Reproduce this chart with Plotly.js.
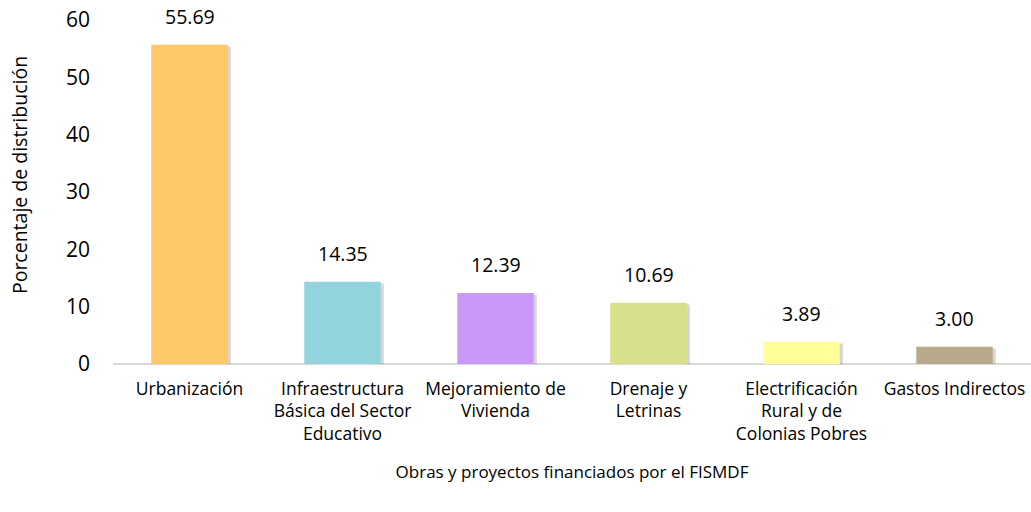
<!DOCTYPE html>
<html>
<head>
<meta charset="utf-8">
<script src="https://cdn.plot.ly/plotly-3.0.1.min.js"></script>
<style>
  body { margin: 0; background: #fff; }
  #chart { width: 1031px; height: 512px; }
</style>
</head>
<body>
<div id="chart"></div>
<script>
// Categories and values
const categories = [
    'Urbanización',
    'Infraestructura<br>Básica del Sector<br>Educativo',
    'Mejoramiento de<br>Vivienda',
    'Drenaje y<br>Letrinas',
    'Electrificación<br>Rural y de<br>Colonias Pobres',
    'Gastos Indirectos'
];
const values = [55.69, 14.35, 12.39, 10.69, 3.89, 3.00];
const barColors = ['#FDC865', '#93D3DB', '#CB98F9', '#D8E08B', '#FFFF99', '#B8A98A'];
const yTicks = [0, 10, 20, 30, 40, 50, 60];

const fontFamily = '"Open Sans", "Noto Sans", sans-serif';
const xIdx = categories.map((c, i) => i);

// Soft shadow behind each bar
const shadow = {
    type: 'bar',
    x: xIdx,
    y: values.map(v => v + 0.3),
    base: -0.6,
    width: 0.5,
    offset: -0.23,
    marker: { color: 'rgba(0,0,0,0.16)' },
    hoverinfo: 'skip',
    showlegend: false
};

const bars = {
    type: 'bar',
    x: xIdx,
    y: values,
    width: 0.5,
    marker: { color: barColors },
    showlegend: false
};

// Value labels above the bars
const annotations = values.map((v, i) => ({
    x: i,
    y: v,
    text: v.toFixed(2),
    showarrow: false,
    yanchor: 'bottom',
    yshift: 13,
    font: { family: fontFamily, size: 19.5, color: '#000' }
}));

// Y axis title, placed slightly above the plot centre like the original
annotations.push({
    xref: 'paper',
    yref: 'paper',
    x: -0.101,
    y: 0.55,
    text: 'Porcentaje de distribución',
    textangle: -90,
    showarrow: false,
    xanchor: 'center',
    yanchor: 'middle',
    font: { family: fontFamily, size: 19.5, color: '#000' }
});

const layout = {
    width: 1031,
    height: 512,
    margin: { l: 113, r: 0, t: 20, b: 148 },
    paper_bgcolor: '#fff',
    plot_bgcolor: '#fff',
    barmode: 'overlay',
    font: { family: fontFamily, color: '#000' },
    xaxis: {
        range: [-0.5, 5.5],
        tickmode: 'array',
        tickvals: xIdx,
        ticktext: categories,
        showgrid: false,
        zeroline: false,
        showline: false,
        ticks: '',
        ticklabelstandoff: 12,
        tickfont: { size: 17.5, color: '#000' },
        title: {
            text: 'Obras y proyectos financiados por el FISMDF',
            font: { size: 17, color: '#000' },
            standoff: 22
        }
    },
    yaxis: {
        range: [0, 60],
        tickmode: 'array',
        tickvals: yTicks,
        showgrid: false,
        zeroline: true,
        zerolinecolor: '#D9D9D9',
        zerolinewidth: 2,
        showline: false,
        ticks: '',
        ticklabelstandoff: 22,
        tickfont: { size: 21, color: '#000' }
    },
    annotations: annotations
};

Plotly.newPlot('chart', [shadow, bars], layout, { displayModeBar: false, staticPlot: true });
</script>
</body>
</html>
